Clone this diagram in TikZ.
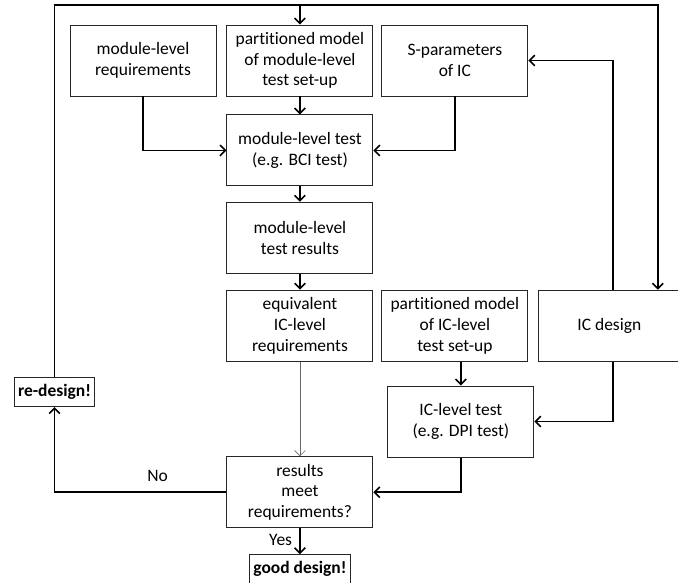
\documentclass[tikz,border=0pt]{standalone}
\usepackage{fontspec}
\setmainfont[Ligatures=NoCommon]{Carlito}
\usetikzlibrary{positioning,arrows.meta}

\begin{document}
\begin{tikzpicture}[x=0.75pt, y=-0.75pt]
    % Style definitions for the boxes and connectors
    \tikzset{box/.style={rectangle, draw=black!85, line width=0.7pt, minimum width=109.5pt, minimum height=53.25pt,
             inner sep=2pt, align=center, font=\fontsize{13.1}{15.6}\selectfont},
             flag/.style={rectangle, draw=black!85, line width=0.7pt, minimum height=22pt, inner sep=3pt,
             font=\fontsize{13.1}{15.6}\selectfont\bfseries},
             lbl/.style={font=\fontsize{13.1}{15.6}\selectfont}}
    \tikzstyle{arrow} = [line width=1.2pt, ->, >={Straight Barb[length=4pt, width=8pt]}]
    \tikzstyle{thinarrow} = [line width=0.5pt, draw=black!60, ->, >={Straight Barb[length=4pt, width=8pt]}]

    \useasboundingbox (0,0) rectangle (678,582);

    % Top row
    \node (modreq) [box] at (143,60.5) {module-level\\requirements};
    \node (modpart) [box, right=7.5pt of modreq] {partitioned model\\of module-level\\test set-up};
    \node (spar) [box, right=6pt of modpart] {S-parameters\\of IC};

    % Middle column
    \node (modtest) [box, below=13.5pt of modpart] {module-level test\\(e.g. BCI test)};
    \node (modres) [box, below=11.5pt of modtest] {module-level\\test results};
    \node (equiv) [box, below=12pt of modres] {equivalent\\IC-level\\requirements};
    \node (icpart) [box, right=6pt of equiv] {partitioned model\\of IC-level\\test set-up};
    \node (icdes) [box, minimum width=105.75pt, right=7.5pt of icpart] {IC design};
    \node (ictest) [box, below=18pt of icpart, xshift=4.5pt] {IC-level test\\(e.g. DPI test)};
    \node (result) [box, below=71pt of equiv] {results\\meet\\requirements?};

    % Outcomes
    \node (bad) [flag] at (54.5,392) {re-design!};
    \node (good) [flag, below=19.5pt of result] {good design!};

    % Feedback loop along the top
    \coordinate (top) at (0,5);
    \draw [arrow] (bad.north) -- (bad |- top) -| ([xshift=36.4pt]icdes.north);
    \draw [arrow] (modpart |- top) -- (modpart.north);

    % Arrows
    \draw [arrow] (modreq.south) |- (modtest.west);
    \draw [arrow] (spar.south) |- (modtest.east);
    \draw [arrow] (modpart) -- (modtest);
    \draw [arrow] (modtest) -- (modres);
    \draw [arrow] (modres) -- (equiv);
    \draw [thinarrow] (equiv) -- (result);
    \draw [arrow] ([xshift=2.6pt]icdes.north) |- (spar.east);
    \draw [arrow] ([xshift=2.6pt]icdes.south) |- (ictest.east);
    \draw [arrow] (icpart.south -| ictest) -- (ictest.north);
    \draw [arrow] (ictest.south) |- (result.east);
    \draw [arrow] (result.west) -| node[lbl, pos=0.2, above, yshift=4pt] {No} (bad.south);
    \draw [arrow] (result) -- node[lbl, left, pos=0.45, xshift=-2pt] {Yes} (good);

\end{tikzpicture}
\end{document}
